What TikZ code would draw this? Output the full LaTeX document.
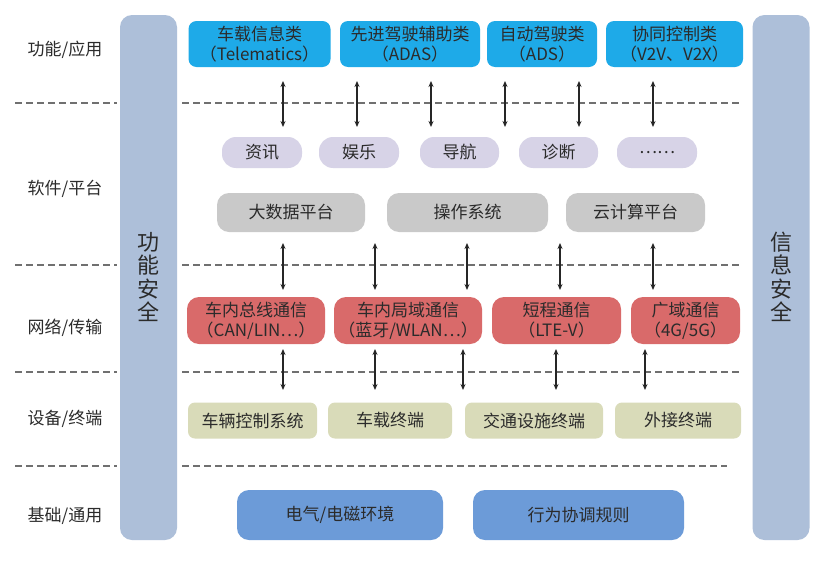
\documentclass[tikz,border=0pt]{standalone}
\usepackage{fontspec}
\setmainfont{Noto Sans CJK SC}
\usetikzlibrary{arrows.meta}
\definecolor{pillar}{HTML}{ADBFD9}
\definecolor{topblue}{HTML}{1EAAE8}
\definecolor{lav}{HTML}{D7D3E7}
\definecolor{greybox}{HTML}{C9C9C9}
\definecolor{redbox}{HTML}{D96A6A}
\definecolor{greenbox}{HTML}{D9DBB9}
\definecolor{botblue}{HTML}{6C9BD8}
\definecolor{txt}{HTML}{2B2B2B}
\definecolor{dashc}{HTML}{707070}
\tikzset{
  box/.style={rounded corners=8pt, draw=none, inner sep=0pt, align=center, text=txt,
     font=\fontsize{17}{20}\selectfont},
  pillarbox/.style={rounded corners=12pt, fill=pillar, draw=none, minimum width=57pt, minimum height=525pt, inner sep=0pt},
  pillartext/.style={text=txt, font=\fontsize{22}{23.5}\selectfont, align=center},
  rowlabel/.style={text=txt, font=\fontsize{17}{20}\selectfont},
  sep/.style={dashc, line width=1.1pt, dash pattern=on 7pt off 4pt},
  arr/.style={{Stealth[length=6pt,width=5pt]}-{Stealth[length=6pt,width=5pt]}, line width=1.1pt, black!85},
}
\begin{document}
\begin{tikzpicture}[x=1pt,y=-1pt]
\useasboundingbox (0,0) rectangle (827,570);
\fill[white] (0,0) rectangle (827,570);

% pillars
\node[pillarbox] (lp) at (148.5,277.5) {};
\node[pillarbox] (rp) at (781,277.5) {};
\node[pillartext] (lpt) at (148.5,277) {功\\能\\安\\全};
\node[pillartext] (rpt) at (781,277) {信\\息\\安\\全};

% row labels
\node[rowlabel] (l1) at (65,50) {功能/应用};
\node[rowlabel] (l2) at (65,189) {软件/平台};
\node[rowlabel] (l3) at (65,328) {网络/传输};
\node[rowlabel] (l4) at (65,419) {设备/终端};
\node[rowlabel] (l5) at (65,516) {基础/通用};

% dashed separators
\foreach \y/\r in {103/742,265/742,372/742,466/727}{
  \draw[sep] (15,\y) -- (117,\y);
  \draw[sep] (182,\y) -- (\r,\y);
}

% top row
\node[box, fill=topblue, minimum width=142pt, minimum height=46pt] (t1) at (259.5,44) {车载信息类\\（Telematics）};
\node[box, fill=topblue, minimum width=140pt, minimum height=46pt] (t2) at (410,44) {先进驾驶辅助类\\（ADAS）};
\node[box, fill=topblue, minimum width=110pt, minimum height=46pt] (t3) at (542,44) {自动驾驶类\\（ADS）};
\node[box, fill=topblue, minimum width=137pt, minimum height=46pt] (t4) at (674.5,44) {协同控制类\\（V2V、V2X）};

% lavender pills
\node[box, fill=lav, rounded corners=14pt, minimum width=80pt, minimum height=31pt] (p1) at (262,152.5) {资讯};
\node[box, fill=lav, rounded corners=14pt, minimum width=80pt, minimum height=31pt] (p2) at (359,152.5) {娱乐};
\node[box, fill=lav, rounded corners=14pt, minimum width=79pt, minimum height=31pt] (p3) at (459.5,152.5) {导航};
\node[box, fill=lav, rounded corners=14pt, minimum width=79pt, minimum height=31pt] (p4) at (558.5,152.5) {诊断};
\node[box, fill=lav, rounded corners=14pt, minimum width=80pt, minimum height=31pt] (p5) at (657,152.5) {……};

% grey platform
\node[box, fill=greybox, rounded corners=12pt, minimum width=148pt, minimum height=39pt] (g1) at (291,212.5) {大数据平台};
\node[box, fill=greybox, rounded corners=12pt, minimum width=161pt, minimum height=39pt] (g2) at (467.5,212.5) {操作系统};
\node[box, fill=greybox, rounded corners=12pt, minimum width=139pt, minimum height=39pt] (g3) at (635.5,212.5) {云计算平台};

% red network
\node[box, fill=redbox, rounded corners=12pt, minimum width=138pt, minimum height=47pt] (r1) at (256,320.5) {车内总线通信\\（CAN/LIN…）};
\node[box, fill=redbox, rounded corners=12pt, minimum width=148pt, minimum height=47pt] (r2) at (408,320.5) {车内局域通信\\（蓝牙/WLAN…）};
\node[box, fill=redbox, rounded corners=12pt, minimum width=129pt, minimum height=47pt] (r3) at (556.5,320.5) {短程通信\\（LTE-V）};
\node[box, fill=redbox, rounded corners=12pt, minimum width=109pt, minimum height=47pt] (r4) at (685.5,320.5) {广域通信\\（4G/5G）};

% green devices
\node[box, fill=greenbox, rounded corners=7pt, minimum width=129pt, minimum height=36pt] (e1) at (252.5,420.5) {车辆控制系统};
\node[box, fill=greenbox, rounded corners=7pt, minimum width=124pt, minimum height=36pt] (e2) at (390,420.5) {车载终端};
\node[box, fill=greenbox, rounded corners=7pt, minimum width=138pt, minimum height=36pt] (e3) at (534,420.5) {交通设施终端};
\node[box, fill=greenbox, rounded corners=7pt, minimum width=126pt, minimum height=36pt] (e4) at (678,420.5) {外接终端};

% bottom blue
\node[box, fill=botblue, rounded corners=12pt, minimum width=206pt, minimum height=50pt] (b1) at (340,515) {电气/电磁环境};
\node[box, fill=botblue, rounded corners=12pt, minimum width=211pt, minimum height=50pt] (b2) at (578.5,515) {行为协调规则};

% arrow end points
\foreach \n/\x in {1/283,2/357,3/431,4/505,5/579,6/653}{
  \coordinate (au\n) at (\x,81);
  \coordinate (ad\n) at (\x,127);
}
\foreach \n/\x in {1/283,2/375,3/467,4/560,5/653}{
  \coordinate (bu\n) at (\x,243);
  \coordinate (bd\n) at (\x,290);
}
\foreach \n/\x in {1/283,2/375,3/463,4/556,5/645}{
  \coordinate (cu\n) at (\x,349);
  \coordinate (cd\n) at (\x,390);
}
\foreach \n in {1,...,6}{ \draw[arr] (au\n) -- (ad\n); }
\foreach \n in {1,...,5}{ \draw[arr] (bu\n) -- (bd\n); }
\foreach \n in {1,...,5}{ \draw[arr] (cu\n) -- (cd\n); }
\end{tikzpicture}
\end{document}
